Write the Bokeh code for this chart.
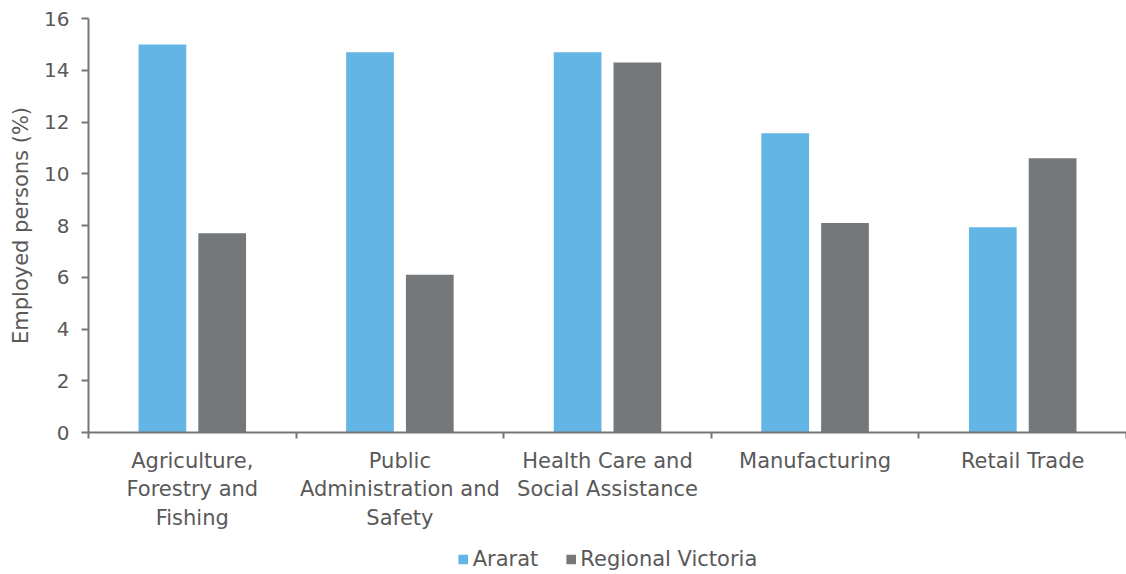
from bokeh.plotting import figure
from bokeh.layouts import column
from bokeh.models import ColumnDataSource, FixedTicker, Legend, LegendItem, Range1d
from bokeh.transform import dodge
from bokeh.embed import file_html
from bokeh.resources import INLINE

categories = ["Agriculture,\nForestry and\nFishing",
              "Public\nAdministration and\nSafety",
              "Health Care and\nSocial Assistance",
              "Manufacturing",
              "Retail Trade"]
ararat = [15.0, 14.7, 14.7, 11.57, 7.93]
regional_victoria = [7.7, 6.1, 14.3, 8.1, 10.6]
y_ticks = [0, 2, 4, 6, 8, 10, 12, 14, 16]

FONT = "DejaVu Sans"
TXT = "#595959"
AX = "#767676"
FS = "21px"
C_ARARAT = "#62B5E5"
C_RV = "#75787B"

centers = [i + 0.5 for i in range(len(categories))]
src = ColumnDataSource(dict(x=centers, ararat=ararat, rv=regional_victoria))

p = figure(width=1126, height=544, output_backend="svg", toolbar_location=None,
           x_range=Range1d(0, len(categories)), y_range=Range1d(0, 16))
p.min_border_left = 88
p.min_border_right = 0
p.min_border_top = 18
p.min_border_bottom = 112
p.outline_line_color = None
p.xgrid.visible = False
p.ygrid.visible = False

p.vbar(x=dodge("x", -0.144, range=p.x_range), top="ararat", width=0.23,
       source=src, color=C_ARARAT, line_color=None)
p.vbar(x=dodge("x", 0.144, range=p.x_range), top="rv", width=0.23,
       source=src, color=C_RV, line_color=None)

xa = p.xaxis[0]
xa.ticker = FixedTicker(ticks=centers, minor_ticks=list(range(len(categories) + 1)))
xa.major_label_overrides = {c: lab for c, lab in zip(centers, categories)}
xa.major_tick_out = 0
xa.major_tick_in = 0
xa.minor_tick_out = 6
xa.minor_tick_in = 0
xa.minor_tick_line_color = AX
xa.axis_line_color = AX
xa.axis_line_width = 2
xa.minor_tick_line_width = 2
xa.major_label_text_font = FONT
xa.major_label_text_font_size = FS
xa.major_label_text_color = TXT
xa.major_label_standoff = 10

ya = p.yaxis[0]
ya.ticker = FixedTicker(ticks=y_ticks)
ya.minor_tick_line_color = None
ya.major_tick_out = 7
ya.major_tick_in = 0
ya.major_tick_line_color = AX
ya.major_tick_line_width = 2
ya.axis_line_color = AX
ya.axis_line_width = 2
ya.major_label_text_font = FONT
ya.major_label_text_font_size = "20px"
ya.major_label_text_color = TXT
ya.major_label_standoff = 12
ya.axis_label = "Employed persons (%)"
ya.axis_label_text_font = FONT
ya.axis_label_text_font_size = FS
ya.axis_label_text_font_style = "normal"
ya.axis_label_text_color = TXT
ya.axis_label_standoff = 8

# Legend strip below the chart
lg = figure(width=1126, height=30, output_backend="svg", toolbar_location=None,
            x_range=Range1d(0, len(categories)), y_range=Range1d(100, 101),
            x_axis_location=None, y_axis_location=None)
lg.min_border_left = 14
lg.min_border_right = 0
lg.min_border_top = 0
lg.min_border_bottom = 0
lg.outline_line_color = None
lg.xgrid.visible = False
lg.ygrid.visible = False
l1 = lg.vbar(x="x", top="ararat", width=0.23, source=src, color=C_ARARAT, line_color=None)
l2 = lg.vbar(x="x", top="rv", width=0.23, source=src, color=C_RV, line_color=None)

legend = Legend(items=[LegendItem(label="Ararat", renderers=[l1]),
                       LegendItem(label="Regional Victoria", renderers=[l2])],
                orientation="horizontal", location="center",
                label_text_font=FONT, label_text_font_size=FS, label_text_color=TXT,
                glyph_width=12, glyph_height=12, spacing=26, label_standoff=4,
                border_line_color=None, background_fill_alpha=0, margin=0, padding=2)
lg.add_layout(legend, "center")

layout = column(p, lg, spacing=0)
open("out.html", "w").write(file_html(layout, INLINE))
